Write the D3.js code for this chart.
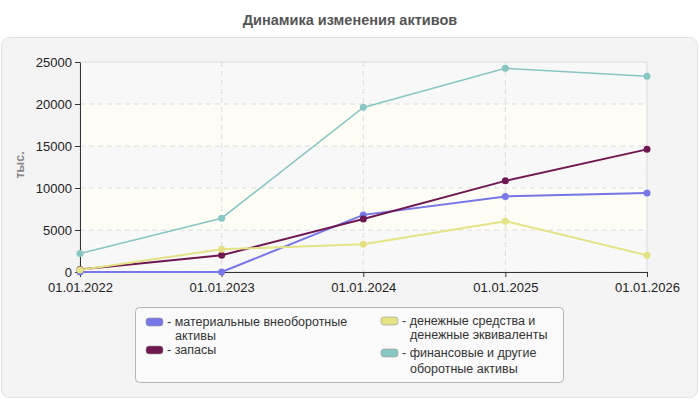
<!DOCTYPE html>
<html>
<head>
<meta charset="utf-8">
<script src="https://cdn.jsdelivr.net/npm/d3@7"></script>
<style>
  body { margin: 0; background: #fff; font-family: "Liberation Sans", Arial, sans-serif; }
</style>
</head>
<body>
<div id="chart"></div>
<script>
// data (тыс.)
const dates = ["2022-01-01", "2023-01-01", "2024-01-01", "2025-01-01", "2026-01-01"];
const seriesNames = [
    ["материальные внеоборотные", "активы"],
    ["запасы"],
    ["денежные средства и", "денежные эквиваленты"],
    ["финансовые и другие", "оборотные активы"]
];
const material = [0, 0, 6800, 9000, 9400];
const zapasy = [300, 2000, 6300, 10850, 14600];
const cash = [250, 2700, 3300, 6050, 2000];
const finance = [2200, 6400, 19600, 24250, 23300];
const yTicks = [0, 5000, 10000, 15000, 20000, 25000];
const colors = ["#7676e6", "#6e1750", "#e4e285", "#88c6c3"];

const W = 700, H = 400;
const margin = { top: 62, right: 53, bottom: 128, left: 80 },
    width = W - margin.left - margin.right,
    height = H - margin.top - margin.bottom;

const svg = d3.select("#chart").append("svg")
    .attr("width", W)
    .attr("height", H);

const defs = svg.append("defs");
const hatch = defs.append("pattern")
    .attr("id", "hatch")
    .attr("patternUnits", "userSpaceOnUse")
    .attr("width", 3).attr("height", 3);
hatch.append("rect").attr("width", 3).attr("height", 3).attr("fill", "#fbfbfb");
hatch.append("path")
    .attr("d", "M-1,1 l2,-2 M0,3 l3,-3 M2,4 l2,-2")
    .attr("stroke", "#ececec").attr("stroke-width", 0.6);

// outer panel
svg.append("rect")
    .attr("x", 1.5).attr("y", 37.5)
    .attr("width", 696).attr("height", 360)
    .attr("rx", 8)
    .attr("fill", "#f4f4f4")
    .attr("stroke", "#e2e2e2");

// title
svg.append("text")
    .attr("x", 350).attr("y", 25)
    .attr("text-anchor", "middle")
    .style("font-size", "14.5px")
    .style("font-weight", "bold")
    .style("fill", "#555")
    .text("Динамика изменения активов");

const g = svg.append("g")
    .attr("transform", `translate(${margin.left},${margin.top})`);

const parse = d3.timeParse("%Y-%m-%d");
const xDates = dates.map(parse);

const xScale = d3.scaleTime()
    .domain(d3.extent(xDates))
    .range([0, width]);

const yScale = d3.scaleLinear()
    .domain([0, 25000])
    .range([height, 0]);

// background bands
const bands = d3.pairs(yTicks);
g.selectAll(".band")
    .data(bands)
    .enter().append("rect")
    .attr("class", "band")
    .attr("x", 0)
    .attr("width", width)
    .attr("y", d => yScale(d[1]))
    .attr("height", d => yScale(d[0]) - yScale(d[1]))
    .attr("fill", (d, i) => i % 2 === 0 ? "url(#hatch)" : "#fdfdf5");

// plot border
g.append("rect")
    .attr("width", width).attr("height", height)
    .attr("fill", "none")
    .attr("stroke", "#dcdcdc");

// grid lines
g.append("g")
    .selectAll("line")
    .data(yTicks.slice(1, -1))
    .enter().append("line")
    .attr("x1", 0).attr("x2", width)
    .attr("y1", d => yScale(d)).attr("y2", d => yScale(d))
    .attr("stroke", "#dcdcdc")
    .attr("stroke-dasharray", "5,4");

g.append("g")
    .selectAll("line")
    .data(xDates.slice(1, -1))
    .enter().append("line")
    .attr("y1", 0).attr("y2", height)
    .attr("x1", d => xScale(d)).attr("x2", d => xScale(d))
    .attr("stroke", "#dcdcdc")
    .attr("stroke-dasharray", "5,4");

// axes
const fmt = d3.timeFormat("%d.%m.%Y");
const xAxis = g.append("g")
    .attr("transform", `translate(0,${height})`)
    .call(d3.axisBottom(xScale).tickValues(xDates).tickFormat(fmt).tickSize(5).tickSizeOuter(0));
xAxis.selectAll("text")
    .attr("dy", "0.9em")
    .style("font-size", "13px")
    .style("fill", "#222")
    .style("font-family", "Liberation Sans, Arial, sans-serif");

const yAxis = g.append("g")
    .call(d3.axisLeft(yScale).tickValues(yTicks).tickFormat(d3.format("d")).tickSize(5).tickSizeOuter(0));
yAxis.selectAll("text")
    .attr("x", -8)
    .style("font-size", "13px")
    .style("fill", "#222")
    .style("font-family", "Liberation Sans, Arial, sans-serif");
g.selectAll(".domain, .tick line").attr("stroke", "#333");

// y title
svg.append("text")
    .attr("transform", "rotate(-90)")
    .attr("x", -165).attr("y", 24)
    .attr("text-anchor", "middle")
    .style("font-size", "12.5px")
    .style("font-weight", "bold")
    .style("fill", "#888")
    .text("тыс.");

// lines
const allSeries = [material, zapasy, cash, finance];
const line = d3.line()
    .x((d, i) => xScale(xDates[i]))
    .y(d => yScale(d));

allSeries.forEach((vals, k) => {
    g.append("path")
        .datum(vals)
        .attr("fill", "none")
        .attr("stroke", colors[k])
        .attr("stroke-width", k === 3 ? 1.6 : 2)
        .attr("d", line);
    g.selectAll(".pt" + k)
        .data(vals)
        .enter().append("circle")
        .attr("class", "pt" + k)
        .attr("cx", (d, i) => xScale(xDates[i]))
        .attr("cy", d => yScale(d))
        .attr("r", 3.5)
        .attr("fill", colors[k]);
});

// legend
const legend = svg.append("g");
legend.append("rect")
    .attr("x", 135.5).attr("y", 307.5)
    .attr("width", 428).attr("height", 75)
    .attr("rx", 4)
    .attr("fill", "#fafafa")
    .attr("stroke", "#b4b4b4");

const legendPos = [
    { x: 146, y: 322, lh: 14 },
    { x: 146, y: 350, lh: 14 },
    { x: 381, y: 321, lh: 14 },
    { x: 381, y: 353, lh: 16 }
];
seriesNames.forEach((lines, k) => {
    const p = legendPos[k];
    legend.append("rect")
        .attr("x", p.x).attr("y", p.y - 4)
        .attr("width", 17).attr("height", 8)
        .attr("rx", 3)
        .attr("fill", colors[k])
        .attr("stroke", "#999").attr("stroke-width", 0.6);
    lines.forEach((s, j) => {
        legend.append("text")
            .attr("x", j === 0 ? p.x + 21 : p.x + 29)
            .attr("y", p.y + 3.5 + j * p.lh)
            .style("font-size", "12.5px")
            .style("fill", "#333")
            .text(j === 0 ? "- " + s : s);
    });
});
</script>
</body>
</html>
